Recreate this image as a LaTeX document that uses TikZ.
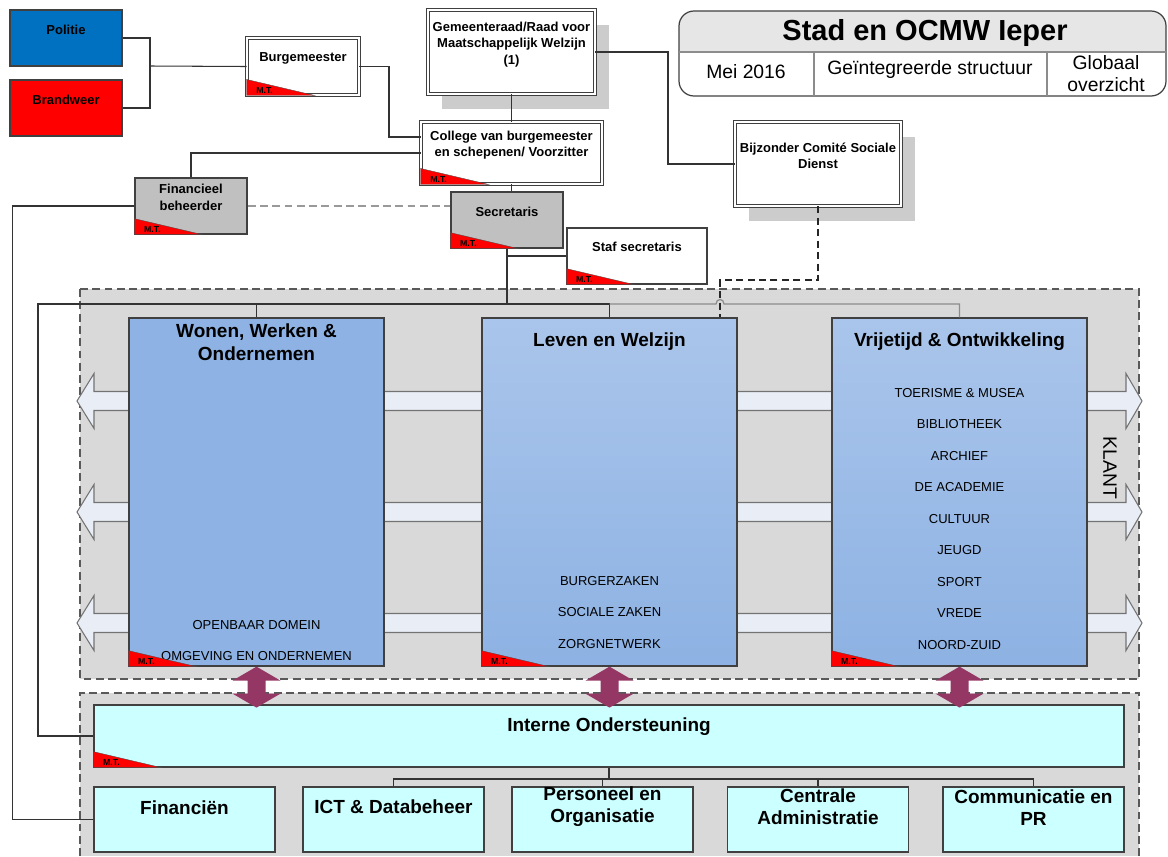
\documentclass[tikz,border=0pt]{standalone}
\usepackage{fontspec}
\setmainfont{Liberation Sans}
\usetikzlibrary{calc,positioning,shadows}

\definecolor{politieblauw}{RGB}{0,112,192}
\definecolor{kader}{RGB}{217,217,217}
\definecolor{vakblauw}{RGB}{141,178,227}
\definecolor{vakblauwlicht}{RGB}{170,197,235}
\definecolor{cyaan}{RGB}{204,255,255}
\definecolor{band}{RGB}{233,238,246}
\definecolor{paars}{RGB}{149,55,101}
\definecolor{schaduw}{RGB}{204,204,204}
\definecolor{grijsvak}{RGB}{192,192,192}
\definecolor{titelgrijs}{RGB}{230,230,230}

\tikzset{
	vak/.style 2 args={draw=black!75, line width=0.7pt, minimum width=#1*0.02cm, minimum height=#2*0.02cm, inner sep=0pt},
	dubbel/.style={double=white, double distance=1.2pt, line width=0.5pt, fill=white},
	metschaduw/.style={drop shadow={shadow xshift=0.28cm, shadow yshift=-0.3cm, fill=schaduw, opacity=1}},
	klein/.style={font=\fontsize{7.4}{9.3}\selectfont\bfseries, align=center, inner sep=0pt},
	dienst/.style={font=\fontsize{7.4}{9}\selectfont, inner sep=0pt},
	kop/.style={font=\fontsize{10.8}{12.8}\selectfont\bfseries, align=center, inner sep=0pt},
	groot/.style={font=\fontsize{11}{12.5}\selectfont, align=center, inner sep=0pt},
	mt/.style={font=\fontsize{5}{5}\selectfont\bfseries, inner sep=0pt},
	lijn/.style={draw=black!80, line width=0.6pt},
	streep/.style={draw=black!65, line width=0.7pt, dash pattern=on 4.5pt off 2.5pt}
}

\newcommand{\mtdriehoek}[1]{%
	\filldraw[fill=red, draw=black!70, very thin] ($(#1.south west)+(0,-16)$) -- (#1.south west) -- ($(#1.south west)+(68,0)$) -- cycle;
	\node[mt] (mt#1) at ($(#1.south west)+(18,-5)$) {M.T.};
}

\begin{document}
\begin{tikzpicture}[x=0.02cm, y=-0.02cm]
	\useasboundingbox (0,0) rectangle (1168,856);
	\fill[kader] (80,289) rectangle (1139,679);
	\draw[streep] (80,289) rectangle (1139,679);
	\fill[kader] (80,693) rectangle (1139,856);
	\draw[streep] (80,856) -- (80,693) -- (1139,693) -- (1139,856);
	\foreach \Y in {401,512,623}
		\filldraw[fill=band, draw=black!55, line width=0.6pt] (77,\Y) -- ++(17,-27.5) -- ++(0,18) -- (1126,\Y-9.5) -- ++(0,-18) -- (1142,\Y) -- ++(-16,27.5) -- ++(0,-18) -- (94,\Y+9.5) -- ++(0,18) -- cycle;

	\node[vak={255}{348}, fill=vakblauw] (www) at (256.5,492) {};
	\node[vak={255}{348}, top color=vakblauwlicht, bottom color=vakblauw] (lw) at (609.5,492) {};
	\node[vak={255}{348}, top color=vakblauwlicht, bottom color=vakblauw] (vo) at (959.5,492) {};
	\node[kop] (twww) at (256.5,342) {Wonen, Werken \&\\Ondernemen};
	\node[kop] (tlw) at (609.5,342) {Leven en Welzijn};
	\node[kop] (tvo) at (959.5,342) {Vrijetijd \& Ontwikkeling};
	\foreach \T [count=\Z] in {OPENBAAR DOMEIN, OMGEVING EN ONDERNEMEN}
		\node[dienst] (www\Z) at (256.5, 593.5+31.5*\Z) {\T};
	\foreach \T [count=\Z] in {BURGERZAKEN, SOCIALE ZAKEN, ZORGNETWERK}
		\node[dienst] (lw\Z) at (609.5, 549.5+31.5*\Z) {\T};
	\foreach \T [count=\Z] in {TOERISME \& MUSEA, BIBLIOTHEEK, ARCHIEF, DE ACADEMIE, CULTUUR, JEUGD, SPORT, VREDE, NOORD-ZUID}
		\node[dienst] (vo\Z) at (959.5, 361.5+31.5*\Z) {\T};
	\node[groot, rotate=-90] (klant) at (1110,468) {KLANT};

	\node[vak={1030}{62}, fill=cyaan] (io) at (609,736) {};
	\node[kop, below=0.26cm of io.north] (tio) {Interne Ondersteuning};
	\foreach \N/\X in {fnc/184.5, ict/393.5, pers/602.5, ca/818, comm/1033.5}
		\node[vak={181}{65}, fill=cyaan] (\N) at (\X,819.5) {};
	\node[kop] (tfnc) at (184.5,808) {Financiën};
	\node[kop] (tict) at (393.5,807) {ICT \& Databeheer};
	\node[kop] (tpers) at (602.5,806.5) {Personeel en\\Organisatie};
	\node[kop] (tca) at (818,806.5) {Centrale\\Administratie};
	\node[kop] (tcomm) at (1033.5,807.5) {Communicatie en\\PR};
	\foreach \N in {www,lw,vo}
		\fill[paars] (\N.south) -- ++(24,14) -- ++(-15,0) -- ++(0,13) -- ++(15,0) -- ++(-24,14) -- ++(-24,-14) -- ++(15,0) -- ++(0,-13) -- ++(-15,0) -- cycle;

	\node[vak={112}{56}, fill=politieblauw] (pol) at (66,38) {};
	\node[vak={112}{56}, fill=red] (brw) at (66,108) {};
	\node[vak={112}{57}, dubbel] (bgm) at (303,66.5) {};
	\node[vak={167}{84}, dubbel, metschaduw] (gr) at (511.5,52) {};
	\node[vak={181}{62}, dubbel] (col) at (511.5,153) {};
	\node[vak={166}{84}, dubbel, metschaduw] (bcsd) at (818,164) {};
	\node[vak={112}{56}, fill=grijsvak] (fin) at (191,206) {};
	\node[vak={112}{56}, fill=grijsvak] (sec) at (507,220) {};
	\node[vak={140}{56}, fill=white] (staf) at (637,256) {};
	\node[klein] (tpol) at (66,30) {Politie};
	\node[klein] (tbrw) at (66,100) {Brandweer};
	\node[klein] (tbgm) at (303,58) {Burgemeester};
	\node[klein] (tgr) at (511.5,44.5) {Gemeenteraad/Raad voor\\Maatschappelijk Welzijn\\(1)};
	\node[klein] (tcol) at (511.5,145) {College van burgemeester\\en schepenen/ Voorzitter};
	\node[klein] (tbcsd) at (818,156) {Bijzonder Comité Sociale\\Dienst};
	\node[klein] (tfin) at (191,197.5) {Financieel\\beheerder};
	\node[klein] (tsec) at (507,212) {Secretaris};
	\node[klein] (tstaf) at (637,247) {Staf secretaris};
	\foreach \N in {bgm,col,fin,sec,staf,www,lw,vo,io}
		{\mtdriehoek{\N}}

	\coordinate (k1) at (150,66);
	\coordinate (k2) at (389,137);
	\coordinate (k3) at (668,164);
	\coordinate (b1) at (38,304);
	\coordinate (d1) at (720,280);
	\coordinate (k4) at (609,779);
	\draw[lijn] (pol.east) -| (k1) |- (brw.east);
	\draw[lijn] (k1) -- (bgm.west);
	\draw[lijn] (bgm.east) -| (k2) -- (k2 -| col.west);
	\draw[lijn] (gr.south) -- (col.north);
	\draw[lijn] (gr.east) -| (k3) -- (bcsd.west);
	\draw[lijn] (col.west) -| (fin.north);
	\draw[lijn] (col.south) -- (col.south |- sec.north);
	\draw[draw=black!40, line width=0.9pt, dash pattern=on 4.5pt off 2.5pt] (fin.east) -- (fin.east -| sec.west);
	\draw[lijn] (fin.west) -- ++(-122,0) |- (fnc.west);
	\draw[lijn] (sec.south) -- (sec.south |- b1);
	\draw[lijn] (sec.south |- staf.west) -- (staf.west);
	\draw[lijn] (io.west) -| (b1) -- (b1 -| lw.north) -- (lw.north);
	\draw[lijn] (www.north) -- (www.north |- b1);
	\draw[draw=black!45, line width=0.7pt] (b1 -| lw.north) -- (716,304) .. controls (716,298) and (724,298) .. (724,304) -- (b1 -| vo.north) -- (vo.north);
	\draw[draw=black!85, line width=0.7pt, dash pattern=on 4pt off 2.5pt] (bcsd.south) |- (d1) -- (d1 |- lw.north);
	\draw[lijn] (io.south) -- (k4);
	\draw[lijn] (ict.north) |- (k4) -| (comm.north);
	\draw[lijn] (pers.north) -- (pers.north |- k4);
	\draw[lijn] (ca.north) -- (ca.north |- k4);

	\begin{scope}
		\clip[rounded corners=0.3cm] (679,11) rectangle (1166,96);
		\fill[titelgrijs] (679,11) rectangle (1166,52);
	\end{scope}
	\draw[black!75, line width=0.7pt, rounded corners=0.3cm] (679,11) rectangle (1166,96);
	\draw[black!45, line width=0.6pt] (679,52) -- (1166,52) (814,52) -- (814,96) (1047,52) -- (1047,96);
	\node[font=\fontsize{16.5}{18}\selectfont\bfseries, inner sep=0pt] (titel) at (925,33) {Stad en OCMW Ieper};
	\node[groot] (datum) at (746,72) {Mei 2016};
	\node[groot] (soort) at (930,69) {Geïntegreerde structuur};
	\node[groot] (deel) at (1106,74) {Globaal\\overzicht};
\end{tikzpicture}
\end{document}
